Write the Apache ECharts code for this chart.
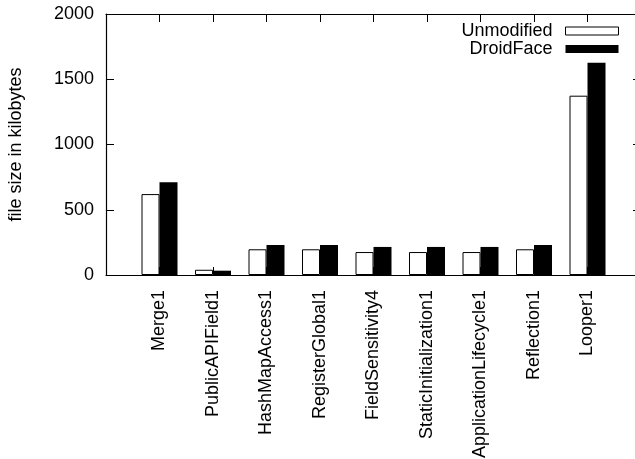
<!DOCTYPE html>
<html>
<head>
<meta charset="utf-8">
<script src="https://cdn.jsdelivr.net/npm/echarts@6/dist/echarts.min.js"></script>
<style>html,body{margin:0;padding:0;background:#fff}#c{width:635px;height:459px}</style>
</head>
<body>
<div id="c"></div>
<script>
const categories = ['Merge1','PublicAPIField1','HashMapAccess1','RegisterGlobal1','FieldSensitivity4','StaticInitialization1','ApplicationLifecycle1','Reflection1','Looper1'];
const unmodified = [620, 40, 197, 197, 176, 176, 176, 197, 1374];
const droidFace = [710, 33, 230, 230, 215, 215, 215, 230, 1627];
const yTicks = [0, 500, 1000, 1500, 2000];

// pad with empty slots at both ends (gnuplot xrange 0..10)
const cats = [''].concat(categories, ['']);
const pad = arr => [null].concat(arr, [null]);

const FONT = 'Liberation Sans, Arial, Helvetica, sans-serif';
const chart = echarts.init(document.getElementById('c'), null, {renderer: 'canvas'});
const axisLine = {show: true, onZero: false, lineStyle: {color: '#000', width: 1.2}};
chart.setOption({
  animation: false,
  backgroundColor: '#fff',
  textStyle: {fontFamily: FONT, color: '#000'},
  grid: {left: 106, top: 14, width: 535, height: 261, containLabel: false, outerBoundsMode: 'none'},
  legend: {
    orient: 'vertical', right: 11, top: 17, align: 'right',
    itemWidth: 53, itemHeight: 8, itemGap: 0,
    textStyle: {fontFamily: FONT, fontSize: 18, color: '#000', lineHeight: 18, padding: [0, 8, 0, 0]},
    data: [
      {name: 'Unmodified', icon: 'rect', itemStyle: {color: '#fff', borderColor: '#000', borderWidth: 1}},
      {name: 'DroidFace', icon: 'rect', itemStyle: {color: '#000'}}
    ]
  },
  xAxis: [{
    type: 'category', data: cats, boundaryGap: false, position: 'bottom',
    axisLine: axisLine,
    axisTick: {show: true, inside: true, length: 8, interval: 0, lineStyle: {color: '#000'}},
    axisLabel: {rotate: 90, interval: 0, fontSize: 18, color: '#000', fontFamily: FONT, margin: 15},
    splitLine: {show: false}
  }, {
    type: 'category', data: cats, boundaryGap: false, position: 'top',
    axisLine: axisLine,
    axisTick: {show: true, inside: true, length: 8, interval: 0, lineStyle: {color: '#000'}},
    axisLabel: {show: false}, splitLine: {show: false}
  }],
  yAxis: [{
    type: 'value', min: yTicks[0], max: yTicks[yTicks.length - 1], interval: 500,
    name: 'file size in kilobytes', nameLocation: 'middle', nameGap: 81,
    nameTextStyle: {fontSize: 18, color: '#000', fontFamily: FONT},
    axisLine: axisLine,
    axisTick: {show: true, inside: true, length: 8, lineStyle: {color: '#000'}},
    axisLabel: {fontSize: 18, color: '#000', fontFamily: FONT, margin: 12, formatter: v => String(v)},
    splitLine: {show: false}
  }, {
    type: 'value', min: yTicks[0], max: yTicks[yTicks.length - 1], interval: 500, position: 'right',
    axisLine: axisLine,
    axisTick: {show: true, inside: true, length: 8, lineStyle: {color: '#000'}},
    axisLabel: {show: false}, splitLine: {show: false}
  }],
  series: [{
    name: 'Unmodified', type: 'bar', data: pad(unmodified), barWidth: 18, barGap: '0%',
    itemStyle: {color: '#fff', borderColor: '#000', borderWidth: 1}
  }, {
    name: 'DroidFace', type: 'bar', data: pad(droidFace), barWidth: 18, barGap: '0%',
    itemStyle: {color: '#000'}
  }]
});
</script>
</body>
</html>
